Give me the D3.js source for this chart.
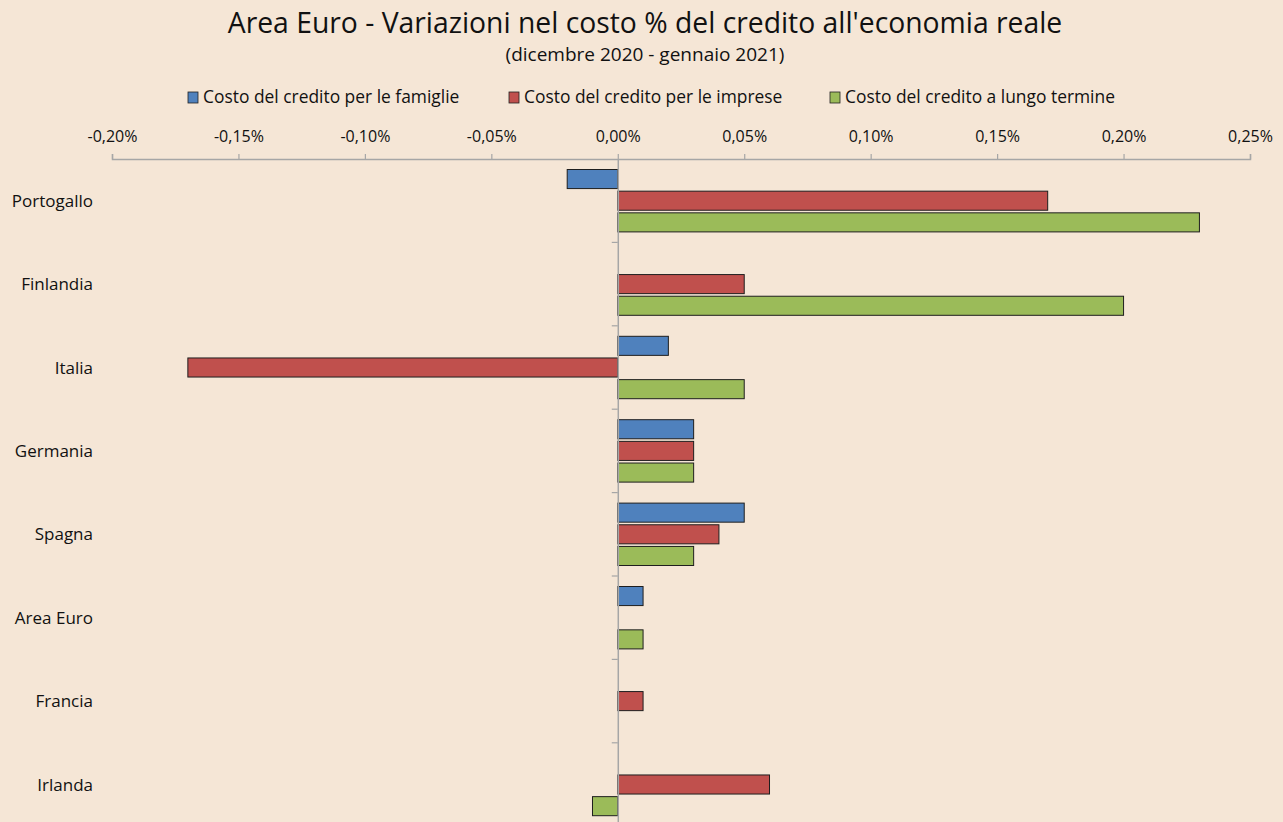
<!DOCTYPE html>
<html>
<head>
<meta charset="utf-8">
<script src="https://cdn.jsdelivr.net/npm/d3@7"></script>
<style>
  body { margin: 0; background: #F5E6D6; }
  svg { display: block; font-family: "Open Sans", sans-serif; }
</style>
</head>
<body>
<svg width="1283" height="822"></svg>
<script>
const countries = ['Portogallo', 'Finlandia', 'Italia', 'Germania', 'Spagna', 'Area Euro', 'Francia', 'Irlanda'];
const seriesNames = ['Costo del credito per le famiglie', 'Costo del credito per le imprese', 'Costo del credito a lungo termine'];
const seriesColors = ['#4F81BD', '#C0504D', '#9BBB59'];
// values in %
const famiglie = [-0.02, 0, 0.02, 0.03, 0.05, 0.01, 0, 0];
const imprese = [0.17, 0.05, -0.17, 0.03, 0.04, 0, 0.01, 0.06];
const lungoTermine = [0.23, 0.20, 0.05, 0.03, 0.03, 0.01, 0, -0.01];
const xTicks = [-0.20, -0.15, -0.10, -0.05, 0, 0.05, 0.10, 0.15, 0.20, 0.25];

const series = [famiglie, imprese, lungoTermine];
const data = countries.map((c, i) => ({ country: c, values: series.map((s, k) => ({ k: k, v: s[i] })) }));

const margin = { left: 112, right: 33, top: 159, bottom: -4 };
const svg = d3.select('svg');
const width = +svg.attr('width');
const height = +svg.attr('height');
const innerWidth = width - margin.left - margin.right;

svg.append('rect').attr('width', width).attr('height', height).attr('fill', '#F5E6D6');

// title
svg.append('text')
  .attr('x', 645).attr('y', 33)
  .attr('text-anchor', 'middle')
  .attr('font-size', 28.3)
  .attr('fill', '#111')
  .text("Area Euro - Variazioni nel costo % del credito all'economia reale");
svg.append('text')
  .attr('x', 645).attr('y', 61)
  .attr('text-anchor', 'middle')
  .attr('font-size', 19)
  .attr('fill', '#111')
  .text('(dicembre 2020 - gennaio 2021)');

// legend
const legendX = [188, 509, 830];
const legend = svg.append('g');
seriesNames.forEach((name, k) => {
  const lg = legend.append('g').attr('transform', `translate(${legendX[k]}, 92)`);
  lg.append('rect').attr('width', 10).attr('height', 11)
    .attr('fill', seriesColors[k]).attr('stroke', '#222').attr('stroke-width', 0.8);
  lg.append('text').attr('x', 15).attr('y', 11)
    .attr('font-size', 17.4).attr('fill', '#111').text(name);
});

const g = svg.append('g')
  .attr('transform', `translate(${margin.left}, ${margin.top})`);

const xScale = d3.scaleLinear()
  .domain([-0.20, 0.25])
  .range([0, innerWidth]);
const y0 = d3.scaleBand()
  .domain(countries)
  .range([0, 83.4 * countries.length]);
const y1 = d3.scaleBand()
  .domain(d3.range(seriesNames.length))
  .range([10.5, y0.bandwidth() - 10.5])
  .paddingInner(0.12);

// top axis
const fmt = d => d3.format('.2f')(d).replace('.', ',').replace('\u2212', '-') + '%';
const xAxis = d3.axisTop(xScale).tickValues(xTicks).tickFormat(fmt).tickSize(5).tickPadding(12);
const xAxisG = g.append('g').call(xAxis);
xAxisG.select('.domain').attr('stroke', '#A6A6A6').attr('stroke-width', 1.5);
xAxisG.selectAll('.tick line').attr('stroke', '#A6A6A6').attr('stroke-width', 1.2);
xAxisG.selectAll('.tick text')
  .attr('font-size', 16).attr('fill', '#111')
  .attr('font-family', '"Open Sans", sans-serif');

// bars
const groups = g.selectAll('.country').data(data).enter().append('g')
  .attr('transform', d => `translate(0, ${y0(d.country)})`);
groups.selectAll('rect').data(d => d.values.filter(v => v.v !== 0)).enter().append('rect')
  .attr('x', d => xScale(Math.min(0, d.v)))
  .attr('width', d => Math.abs(xScale(d.v) - xScale(0)))
  .attr('y', d => y1(d.k))
  .attr('height', y1.bandwidth())
  .attr('fill', d => seriesColors[d.k])
  .attr('stroke', '#1e1e1e')
  .attr('stroke-width', 1);

// vertical category axis at zero
const yAxis = d3.axisLeft(y0).tickValues([]).tickSize(0);
const yAxisG = g.append('g').attr('transform', `translate(${xScale(0)}, 0)`).call(yAxis);
yAxisG.select('.domain').attr('stroke', '#A6A6A6').attr('stroke-width', 1.5);
yAxisG.selectAll('.sep').data(countries.slice(1)).enter().append('line')
  .attr('class', 'sep')
  .attr('x1', -6).attr('x2', 0)
  .attr('y1', d => y0(d)).attr('y2', d => y0(d))
  .attr('stroke', '#A6A6A6').attr('stroke-width', 1.2);

// category labels (right aligned on left side)
g.selectAll('.clabel').data(countries).enter().append('text')
  .attr('class', 'clabel')
  .attr('x', 93 - margin.left)
  .attr('y', d => y0(d) + y0.bandwidth() / 2 + 6)
  .attr('text-anchor', 'end')
  .attr('font-size', 17)
  .attr('fill', '#111')
  .text(d => d);
</script>
</body>
</html>
